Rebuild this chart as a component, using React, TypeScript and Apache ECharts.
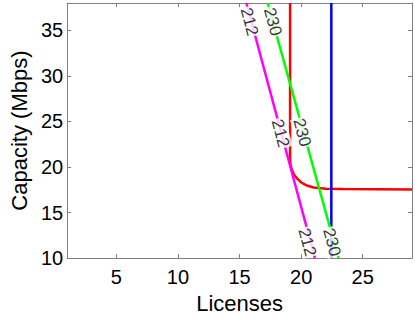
import React, { useEffect, useRef } from "react";
import * as echarts from "echarts";

const redCurve: [number, number][] = [
  [19.1, 38], [19.1, 21], [19.13, 20.3], [19.2, 19.9], [19.3, 19.5], [19.45, 19.1],
  [19.7, 18.7], [20.0, 18.3], [20.4, 18.0], [21.0, 17.75], [22.0, 17.62], [23.4, 17.58], [29, 17.52],
];
const blueLine: [number, number][] = [[22.45, 10], [22.45, 38]];
const greenLine: [number, number][] = [[17.28, 38], [23.03, 10]];
const magentaLine: [number, number][] = [[15.55, 38], [21.12, 10]];
const contourLabels: [number, number, string][] = [
  [15.8, 35.95, "212"],
  [17.7, 35.95, "230"],
  [18.32, 23.7, "212"],
  [20.08, 23.78, "230"],
  [20.5, 11.75, "212"],
  [22.5, 11.75, "230"],
];

const FONT = "Liberation Sans, Arial, Helvetica, sans-serif";
const AXIS_COLOR = "#808080";

export default function App() {
  const ref = useRef<HTMLDivElement>(null);
  useEffect(() => {
    if (!ref.current) return;
    const chart = echarts.init(ref.current, null, { renderer: "svg" });
    const line = (data: [number, number][], color: string) => ({
      type: "line",
      data,
      showSymbol: false,
      symbol: "none",
      lineStyle: { color, width: 2.5 },
      itemStyle: { color },
      xAxisIndex: 0,
      yAxisIndex: 0,
      z: 2,
    });
    const baseAxis = {
      axisLine: { show: true, onZero: false, lineStyle: { color: AXIS_COLOR, width: 1 } },
      axisTick: { show: true, inside: true, length: 4, lineStyle: { color: AXIS_COLOR } },
      splitLine: { show: false },
    };
    chart.setOption({
      animation: false,
      textStyle: { fontFamily: FONT },
      grid: { left: 62, right: 3, top: 3, bottom: 60, containLabel: false },
      xAxis: [
        {
          ...baseAxis,
          type: "value",
          position: "bottom",
          min: 1,
          max: 29,
          splitNumber: 5,
          axisLabel: {
            color: "#000",
            fontSize: 20,
            fontFamily: FONT,
            margin: 9,
            formatter: (v: number) => (v % 5 === 0 ? String(v) : ""),
          },
          name: "Licenses",
          nameLocation: "middle",
          nameGap: 33,
          nameTextStyle: { color: "#000", fontSize: 22, fontFamily: FONT },
        },
        {
          ...baseAxis,
          type: "value",
          position: "top",
          min: 1,
          max: 29,
          splitNumber: 5,
          axisLabel: { show: false },
        },
      ],
      yAxis: [
        {
          ...baseAxis,
          type: "value",
          position: "left",
          min: 10,
          max: 38,
          interval: 5,
          axisLabel: {
            color: "#000",
            fontSize: 20,
            fontFamily: FONT,
            margin: 4,
            formatter: (v: number) => (v % 5 === 0 ? String(v) : ""),
          },
          name: "Capacity (Mbps)",
          nameLocation: "middle",
          nameRotate: 90,
          nameGap: 35,
          nameTextStyle: { color: "#000", fontSize: 22, fontFamily: FONT },
        },
        {
          ...baseAxis,
          type: "value",
          position: "right",
          min: 10,
          max: 38,
          interval: 5,
          axisLabel: { show: false },
        },
      ],
      series: [
        line(redCurve, "#ff0000"),
        line(blueLine, "#0000ff"),
        line(greenLine, "#00ff00"),
        line(magentaLine, "#ff00ff"),
        {
          type: "scatter",
          data: contourLabels,
          symbolSize: 1,
          itemStyle: { color: "rgba(0,0,0,0)" },
          xAxisIndex: 0,
          yAxisIndex: 0,
          z: 5,
          label: {
            show: true,
            position: "inside",
            rotate: -75,
            formatter: (p: any) => p.value[2],
            color: "#000",
            fontSize: 17,
            fontFamily: FONT,
            backgroundColor: "#fff",
            padding: [0, 1],
          },
          emphasis: { disabled: true },
        },
      ],
    });
    return () => chart.dispose();
  }, []);
  return (
    <div
      ref={ref}
      style={{ position: "fixed", left: 0, top: 0, width: 415, height: 319, background: "#fff" }}
    />
  );
}
